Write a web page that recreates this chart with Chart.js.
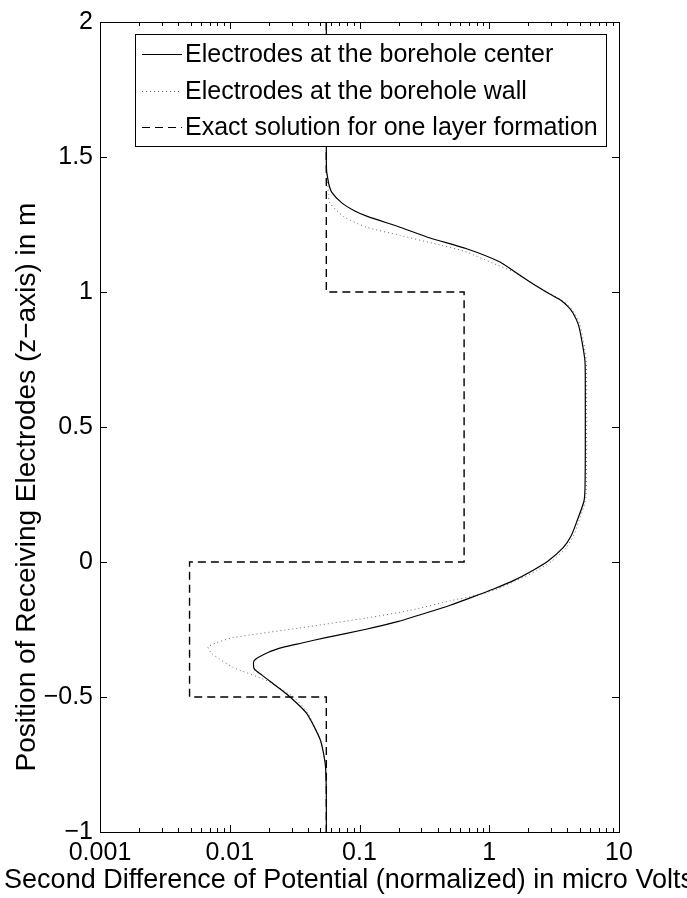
<!DOCTYPE html>
<html>
<head>
<meta charset="utf-8">
<script src="https://cdn.jsdelivr.net/npm/chart.js@4"></script>
<style>
  html, body { margin: 0; padding: 0; background: #fff; }
  canvas { display: block; }
</style>
</head>
<body>
<canvas id="chart" width="687" height="898"></canvas>
<script>
// --- Data ---
const zCenter = [2.0, 1.6, 1.5, 1.45, 1.43, 1.40, 1.37, 1.33, 1.30, 1.28, 1.24, 1.20, 1.16, 1.111, 1.074, 1.037, 1.00, 0.970, 0.944, 0.922, 0.878, 0.815, 0.742, 0.60, 0.50, 0.40, 0.273, 0.225, 0.151, 0.096, 0.052, 0.004, -0.033, -0.07, -0.10, -0.13, -0.16, -0.19, -0.22, -0.25, -0.28, -0.30, -0.315, -0.335, -0.365, -0.395, -0.42, -0.45, -0.49, -0.56, -0.66, -0.75, -0.85, -1.0];
const vCenter = [0.0555, 0.0555, 0.0555, 0.0557, 0.0565, 0.058, 0.061, 0.073, 0.092, 0.115, 0.205, 0.35, 0.67, 1.21, 1.58, 2.06, 2.75, 3.54, 4.08, 4.42, 4.87, 5.19, 5.47, 5.5, 5.5, 5.5, 5.47, 5.37, 4.74, 4.27, 3.70, 2.84, 2.13, 1.52, 1.08, 0.74, 0.50, 0.32, 0.20, 0.11, 0.055, 0.036, 0.026, 0.0197, 0.0154, 0.0154, 0.0178, 0.0215, 0.0276, 0.039, 0.050, 0.0545, 0.0555, 0.0555];

const zWall = [2.0, 1.6, 1.5, 1.44, 1.40, 1.36, 1.33, 1.28, 1.24, 1.21, 1.18, 1.15, 1.10, 1.074, 1.037, 1.00, 0.970, 0.944, 0.922, 0.878, 0.815, 0.742, 0.60, 0.50, 0.40, 0.273, 0.225, 0.151, 0.096, 0.052, 0.004, -0.033, -0.07, -0.10, -0.12, -0.144, -0.18, -0.207, -0.244, -0.28, -0.30, -0.315, -0.34, -0.39, -0.44, -0.50, -0.56, -0.66, -0.75, -0.85, -1.0];
const vWall = [0.0555, 0.0555, 0.0555, 0.056, 0.057, 0.0575, 0.059, 0.075, 0.113, 0.205, 0.37, 0.65, 1.15, 1.55, 2.06, 2.8, 3.62, 4.18, 4.54, 5.0, 5.33, 5.6, 5.63, 5.63, 5.63, 5.6, 5.5, 4.9, 4.45, 3.9, 3.05, 2.3, 1.6, 1.15, 0.85, 0.50, 0.24, 0.114, 0.035, 0.0106, 0.0078, 0.0068, 0.0073, 0.0106, 0.0194, 0.031, 0.040, 0.050, 0.0545, 0.0555, 0.0555];

const zExact = [2, 1, 1, 0, 0, -0.5, -0.5, -1];
const vExact = [0.0555, 0.0555, 0.64, 0.64, 0.0049, 0.0049, 0.0555, 0.0555];

const seriesNames = ['Electrodes at the borehole center', 'Electrodes at the borehole wall', 'Exact solution for one layer formation'];

const xTicks = [0.001, 0.01, 0.1, 1, 10];
const xTickLabels = ['0.001', '0.01', '0.1', '1', '10'];
const yTicks = [-1, -0.5, 0, 0.5, 1, 1.5, 2];
const yTickLabels = ['\u22121', '\u22120.5', '0', '0.5', '1', '1.5', '2'];

const xTitle = 'Second Difference of Potential (normalized) in micro Volts';
const yTitle = 'Position of Receiving Electrodes (z\u2212axis) in m';

const FONT = "'Liberation Sans', Arial, Helvetica, sans-serif";

const toPoints = (xs, zs) => zs.map((z, i) => ({ x: xs[i], y: z }));

// --- Plugin: frame, inside ticks, titles, legend ---
const decorPlugin = {
    id: 'decor',
    afterDraw(chart) {
        const { ctx, chartArea: a, scales: { x, y } } = chart;
        ctx.save();
        ctx.strokeStyle = '#000';
        ctx.lineWidth = 1;

        // box
        ctx.strokeRect(a.left + 0.5, a.top + 0.5, a.right - a.left, a.bottom - a.top);

        // x ticks (major + minor), bottom and top
        ctx.beginPath();
        xTicks.forEach((d, i) => {
            const px = Math.round(x.getPixelForValue(d)) + 0.5;
            ctx.moveTo(px, a.bottom); ctx.lineTo(px, a.bottom - 7);
            ctx.moveTo(px, a.top); ctx.lineTo(px, a.top + 7);
            if (i === xTicks.length - 1) return;
            for (let m = 2; m <= 9; m++) {
                const pm = Math.round(x.getPixelForValue(d * m)) + 0.5;
                ctx.moveTo(pm, a.bottom); ctx.lineTo(pm, a.bottom - 4);
                ctx.moveTo(pm, a.top); ctx.lineTo(pm, a.top + 4);
            }
        });
        // y ticks, left and right
        yTicks.forEach(v => {
            const py = Math.round(y.getPixelForValue(v)) + 0.5;
            ctx.moveTo(a.left, py); ctx.lineTo(a.left + 7, py);
            ctx.moveTo(a.right, py); ctx.lineTo(a.right - 7, py);
        });
        ctx.stroke();

        // axis titles
        ctx.fillStyle = '#000';
        ctx.textAlign = 'center';
        ctx.textBaseline = 'middle';
        ctx.font = `27px ${FONT}`;
        ctx.fillText(xTitle, 349, 881);
        ctx.save();
        ctx.translate(27, 487);
        ctx.rotate(-Math.PI / 2);
        ctx.font = `28px ${FONT}`;
        ctx.fillText(yTitle, 0, 0);
        ctx.restore();

        // legend
        const box = { l: 135, t: 34, r: 606, b: 146 };
        ctx.fillStyle = '#fff';
        ctx.fillRect(box.l, box.t, box.r - box.l, box.b - box.t);
        ctx.strokeRect(box.l + 0.5, box.t + 0.5, box.r - box.l, box.b - box.t);
        const rows = [54, 91, 127];
        const styles = [
            { dash: [], color: '#000' },
            { dash: [1, 3], color: '#666' },
            { dash: [8, 5], color: '#000' }
        ];
        rows.forEach((ry, i) => {
            ctx.beginPath();
            ctx.setLineDash(styles[i].dash);
            ctx.strokeStyle = styles[i].color;
            ctx.moveTo(142, ry + 0.5);
            ctx.lineTo(182, ry + 0.5);
            ctx.stroke();
            ctx.setLineDash([]);
            ctx.fillStyle = '#000';
            ctx.font = `25px ${FONT}`;
            ctx.textAlign = 'left';
            ctx.textBaseline = 'middle';
            ctx.fillText(seriesNames[i], 185, ry + 1);
        });
        ctx.restore();
    }
};

const ctx = document.getElementById('chart').getContext('2d');
new Chart(ctx, {
    type: 'scatter',
    data: {
        datasets: [
            {
                label: seriesNames[0],
                data: toPoints(vCenter, zCenter),
                showLine: true, borderColor: '#000', borderWidth: 1.2,
                pointRadius: 0, tension: 0.2
            },
            {
                label: seriesNames[1],
                data: toPoints(vWall, zWall),
                showLine: true, borderColor: '#666', borderWidth: 1,
                borderDash: [1, 3], pointRadius: 0, tension: 0.2
            },
            {
                label: seriesNames[2],
                data: toPoints(vExact, zExact),
                showLine: true, borderColor: '#000', borderWidth: 1.4,
                borderDash: [8, 5], pointRadius: 0, tension: 0
            }
        ]
    },
    options: {
        responsive: false,
        animation: false,
        devicePixelRatio: 1,
        layout: { padding: { top: 19, right: 68, left: 0, bottom: 0 } },
        plugins: { legend: { display: false }, tooltip: { enabled: false } },
        scales: {
            x: {
                type: 'logarithmic',
                min: 0.001, max: 10,
                grid: { display: false, drawTicks: false },
                border: { display: false },
                afterBuildTicks: s => { s.ticks = xTicks.map(value => ({ value })); },
                afterFit: s => { s.height = 66; },
                ticks: {
                    autoSkip: false, maxRotation: 0, padding: 6,
                    color: '#000', font: { family: FONT, size: 25 },
                    callback: (v, i) => xTickLabels[i]
                }
            },
            y: {
                type: 'linear',
                min: -1, max: 2,
                grid: { display: false, drawTicks: false },
                border: { display: false },
                afterBuildTicks: s => { s.ticks = yTicks.map(value => ({ value })); },
                afterFit: s => { s.width = 100; },
                ticks: {
                    autoSkip: false, padding: 7,
                    color: '#000', font: { family: FONT, size: 25 },
                    callback: (v, i) => yTickLabels[i]
                }
            }
        }
    },
    plugins: [decorPlugin]
});
</script>
</body>
</html>
